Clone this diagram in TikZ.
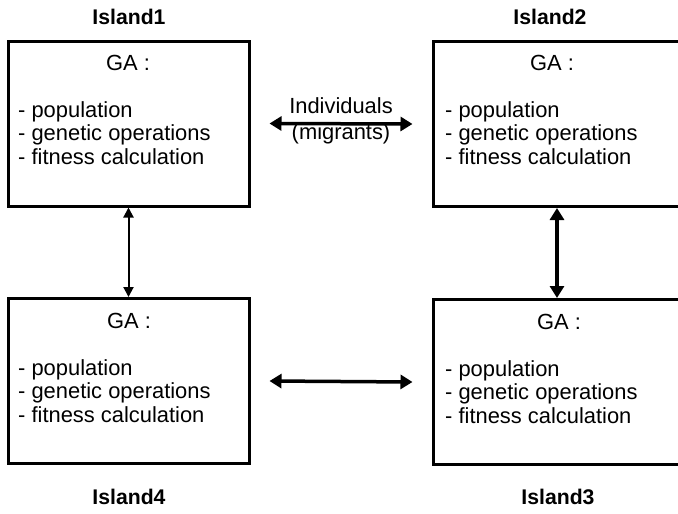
\documentclass[tikz,border=0pt]{standalone}
\usepackage{fontspec}
\setmainfont{Liberation Sans}
\usetikzlibrary{arrows.meta}
\begin{document}
\begin{tikzpicture}[x=1pt,y=-1pt,
  island/.style={draw,line width=3pt,minimum height=165pt,inner sep=0pt},
  title/.style={font=\bfseries\fontsize{21.2}{24}\selectfont},
  body/.style={font=\fontsize{21.9}{23.5}\selectfont,align=left,anchor=north west,inner sep=0pt},
  head/.style={font=\fontsize{21.9}{24}\selectfont,inner sep=0pt},
  thinlink/.style={line width=2pt,{Triangle[length=10pt,width=10pt]}-{Triangle[length=10pt,width=10pt]}},
  thicklink/.style={line width=3.5pt,{Triangle[length=12pt,width=14pt]}-{Triangle[length=12pt,width=14pt]}}]
\useasboundingbox (0,0) rectangle (678,514);

% the four islands (the right-hand pair runs past the page edge)
\node[island,minimum width=241pt] (i1) at (128.5,123.5) {};
\node[island,minimum width=252pt] (i2) at (559,124) {};
\node[island,minimum width=241pt] (i4) at (128.5,381) {};
\node[island,minimum width=252pt] (i3) at (559,382) {};

% island names
\node[title] (t1) at (129,17) {Island1};
\node[title] (t2) at (550,17) {Island2};
\node[title] (t4) at (129,497) {Island4};
\node[title] (t3) at (558,497) {Island3};

% contents of each island
\foreach \b/\gx/\gy/\lx/\ly in {i1/128/63/18/101, i2/552/63/445/101, i4/129/321/18/359, i3/559/322/445/360}{
  \node[head] (\b-ga) at (\gx,\gy) {GA :};
  \node[body] (\b-list) at (\lx,\ly) {- population\\- genetic operations\\- fitness calculation};
}

% migration links
\draw[thicklink] ([xshift=19pt]i1.east) -- ([xshift=-19pt]i2.west);
\draw[thicklink] ([xshift=19pt]i4.east) -- ([xshift=-19pt]i3.west);
\draw[thinlink] (i1.south) -- (i4.north);
\draw[thicklink] ([xshift=-2pt]i2.south) -- ([xshift=-2pt]i3.north);

\node[font=\fontsize{21.9}{26}\selectfont,align=center,inner sep=0pt] (mig) at (341,121) {Individuals\\(migrants)};
\end{tikzpicture}
\end{document}
